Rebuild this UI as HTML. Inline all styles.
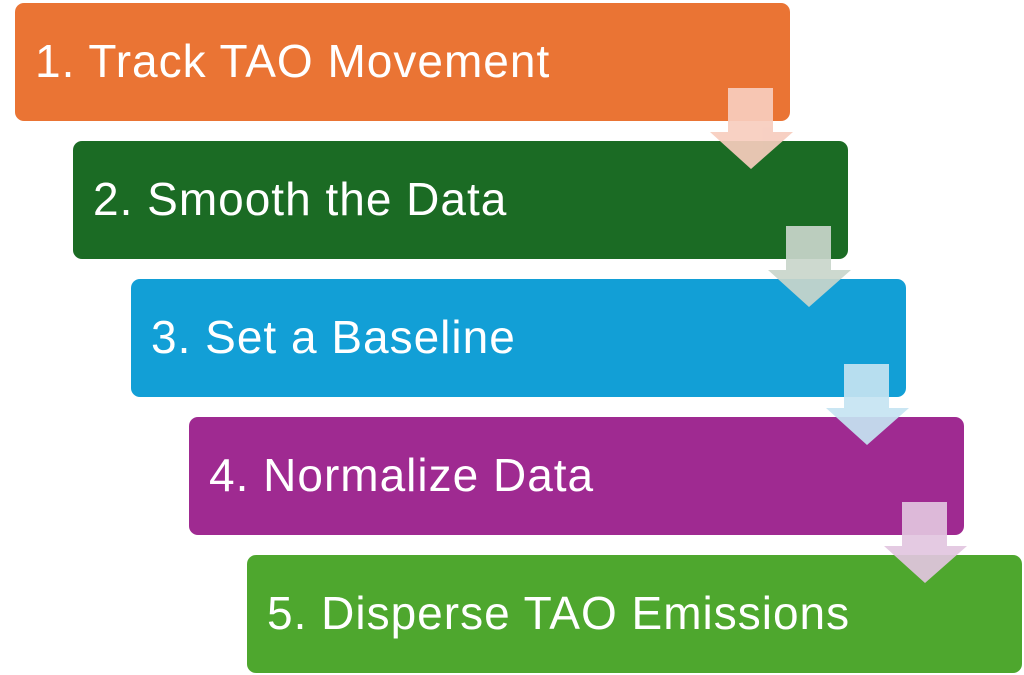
<!DOCTYPE html>
<html><head><style>
body{margin:0;width:1024px;height:675px;background:#fff;position:relative;overflow:hidden;font-family:"Liberation Sans",sans-serif}
.b{position:absolute;width:775px;height:118px;border-radius:9px;color:#fff;font-size:46px;letter-spacing:1px;line-height:116px;padding-left:20px;box-sizing:border-box}
svg{position:absolute;left:0;top:0}
</style></head><body>
<div class="b" style="left:15px;top:3px;background:#EA7434">1. Track TAO Movement</div>
<div class="b" style="left:73px;top:141px;background:#1B6B24">2. Smooth the Data</div>
<div class="b" style="left:131px;top:279px;background:#129FD6">3. Set a Baseline</div>
<div class="b" style="left:189px;top:417px;background:#9F2A91">4. Normalize Data</div>
<div class="b" style="left:247px;top:555px;background:#4EA72E">5. Disperse TAO Emissions</div>
<svg width="1024" height="675">
<g opacity="0.92">
<path d="M728 88h45v44h20l-42 37l-41-37h18z" fill="#F7CDBE"/>
<path d="M786 226h45v44h20l-42 37l-41-37h18z" fill="#C9D6CC"/>
<path d="M844 364h45v44h20l-42 37l-41-37h18z" fill="#C6E4F2"/>
<path d="M902 502h45v44h20l-42 37l-41-37h18z" fill="#E2C6E0"/>
</g>
</svg>
</body></html>
